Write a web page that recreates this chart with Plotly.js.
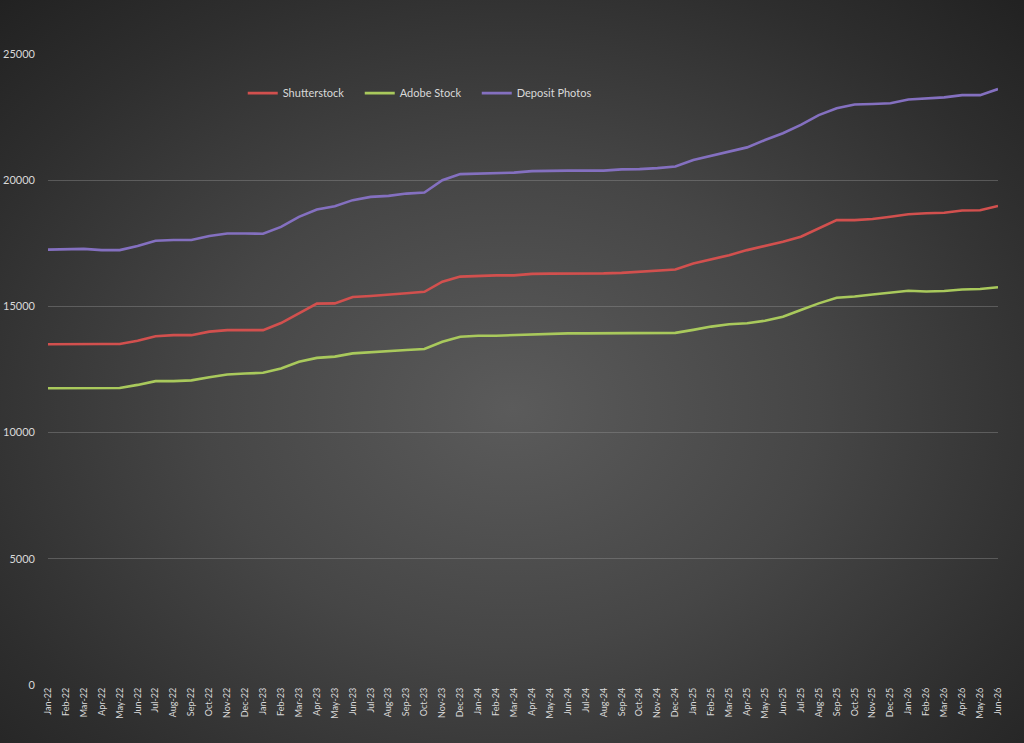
<!DOCTYPE html>
<html>
<head>
<meta charset="utf-8">
<script src="https://cdn.plot.ly/plotly-3.0.1.min.js"></script>
<style>
  html, body { margin: 0; padding: 0; width: 1024px; height: 743px; overflow: hidden; }
  #chart {
    width: 1024px; height: 743px;
    background: radial-gradient(ellipse 75% 80% at 50% 55%, #5b5b5b 0%, #464646 40%, #2e2e2e 75%, #1f1f1f 100%);
  }
</style>
</head>
<body>
<div id="chart"></div>
<script>
const months = ["Jan-22","Feb-22","Mar-22","Apr-22","May-22","Jun-22","Jul-22","Aug-22","Sep-22","Oct-22","Nov-22","Dec-22",
  "Jan-23","Feb-23","Mar-23","Apr-23","May-23","Jun-23","Jul-23","Aug-23","Sep-23","Oct-23","Nov-23","Dec-23",
  "Jan-24","Feb-24","Mar-24","Apr-24","May-24","Jun-24","Jul-24","Aug-24","Sep-24","Oct-24","Nov-24","Dec-24",
  "Jan-25","Feb-25","Mar-25","Apr-25","May-25","Jun-25","Jul-25","Aug-25","Sep-25","Oct-25","Nov-25","Dec-25",
  "Jan-26","Feb-26","Mar-26","Apr-26","May-26","Jun-26"];

const shutterstock = [13500,13510,13510,13510,13510,13640,13820,13860,13860,14000,14060,14060,
  14060,14340,14730,15110,15120,15370,15410,15450,15520,15580,15980,16180,
  16220,16230,16230,16290,16300,16300,16310,16310,16330,16370,16420,16460,
  16700,16860,17030,17230,17390,17560,17760,18090,18420,18420,18460,18550,
  18650,18690,18710,18800,18810,18980];

const adobeStock = [11760,11760,11770,11770,11770,11890,12040,12040,12070,12190,12300,12340,
  12370,12540,12810,12960,13010,13140,13190,13230,13270,13310,13600,13800,
  13840,13840,13860,13900,13920,13930,13930,13930,13930,13930,13940,13950,
  14070,14200,14290,14330,14430,14590,14860,15120,15340,15390,15470,15540,
  15620,15590,15610,15670,15690,15760];

const depositPhotos = [17250,17260,17280,17230,17230,17390,17600,17630,17630,17790,17890,17890,
  17880,18150,18550,18840,18970,19210,19340,19380,19470,19510,20000,20240,
  20270,20270,20300,20360,20380,20380,20380,20380,20430,20440,20480,20540,
  20800,20960,21130,21300,21590,21860,22190,22580,22850,23000,23020,23050,
  23200,23240,23280,23370,23370,23610];

const yTicks = [0, 5000, 10000, 15000, 20000, 25000];

const seriesNames = ["Shutterstock", "Adobe Stock", "Deposit Photos"];
const seriesColors = ["#d2504e", "#a9c95c", "#8470c0"];
const seriesData = [shutterstock, adobeStock, depositPhotos];

const traces = seriesData.map((vals, i) => ({
  type: "scatter",
  mode: "lines",
  name: seriesNames[i],
  x: months.map((_, k) => k),
  y: vals,
  line: { color: seriesColors[i], width: 2.6 },
  hoverinfo: "x+y+name"
}));

const layout = {
  width: 1024,
  height: 743,
  paper_bgcolor: "rgba(0,0,0,0)",
  plot_bgcolor: "rgba(0,0,0,0)",
  font: { family: "Lato, 'Open Sans', sans-serif", color: "#d9d9d9", size: 11 },
  margin: { l: 48, r: 26, t: 54, b: 58 },
  showlegend: true,
  legend: {
    orientation: "h",
    x: 0.205, y: 0.938,
    xanchor: "left", yanchor: "middle",
    bgcolor: "rgba(0,0,0,0)",
    font: { size: 11, color: "#d9d9d9" },
    itemwidth: 30,
    entrywidth: 72,
    entrywidthmode: "pixels",
    traceorder: "normal"
  },
  xaxis: {
    range: [0, 53],
    tickmode: "array",
    tickvals: months.map((_, k) => k),
    ticktext: months,
    tickangle: -90,
    tickfont: { size: 9, color: "#d9d9d9" },
    showgrid: false,
    zeroline: false,
    showline: false,
    ticks: "",
    fixedrange: true
  },
  yaxis: {
    range: [0, 25000],
    tickmode: "array",
    tickvals: yTicks,
    ticktext: yTicks.map(String),
    tickfont: { size: 11, color: "#d9d9d9" },
    showgrid: true,
    gridcolor: "rgba(150,150,150,0.4)",
    gridwidth: 1,
    zeroline: false,
    showline: false,
    ticks: "",
    ticklabelstandoff: 12,
    fixedrange: true
  }
};

Plotly.newPlot("chart", traces, layout, { displayModeBar: false, staticPlot: true });
</script>
</body>
</html>
